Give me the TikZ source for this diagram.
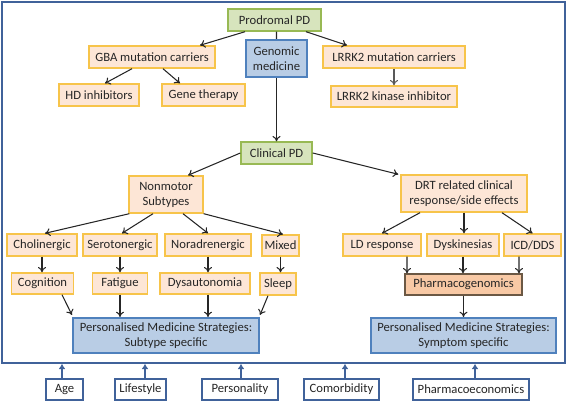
\documentclass[tikz,border=0pt]{standalone}
\usepackage{fontspec}
\setmainfont{Carlito}
\usetikzlibrary{arrows.meta}

\definecolor{greenfill}{HTML}{D7E4BD}
\definecolor{greenline}{HTML}{98B954}
\definecolor{peachfill}{HTML}{FDE6D6}
\definecolor{goldline}{HTML}{F7C44A}
\definecolor{bluefill}{HTML}{B9CDE5}
\definecolor{blueline}{HTML}{4F81BD}
\definecolor{pharmafill}{HTML}{F8C9A5}
\definecolor{pharmaline}{HTML}{6B5844}
\definecolor{frameline}{HTML}{40629A}
\definecolor{txt}{HTML}{262626}

\tikzset{
    box/.style={draw, line width=0.8pt, align=center, inner sep=0pt, text=txt,
        font=\fontsize{7.2}{8.5}\selectfont},
    greenbox/.style={box, draw=greenline, fill=greenfill},
    peachbox/.style={box, draw=goldline, fill=peachfill},
    bluebox/.style={box, draw=blueline, fill=bluefill, line width=1.2pt},
    pharmabox/.style={box, draw=pharmaline, fill=pharmafill},
    factorbox/.style={box, draw=frameline, fill=white},
    arr/.style={draw=txt, line width=0.6pt, -{To[length=3pt,width=4.5pt]}},
    uparr/.style={draw=frameline, line width=1.6pt, -{Latex[length=3pt,width=4pt]}},
}

\begin{document}
\begin{tikzpicture}[x=0.02cm, y=-0.02cm]
    \useasboundingbox (0, 0) rectangle (568, 402);

    % outer frame
    \node[draw=frameline, line width=1pt, minimum width=11.26cm, minimum height=7.22cm] (frame) at (283.5, 182.5) {};

    % genomic branch
    \node[greenbox, minimum width=1.86cm, minimum height=0.44cm] (prodromal) at (274.5, 20) {Prodromal PD};
    \node[bluebox, minimum width=1.22cm, minimum height=0.74cm] (genomic) at (276.5, 58.5) {Genomic\\medicine};
    \node[peachbox, minimum width=2.52cm, minimum height=0.44cm] (gba) at (152, 57) {GBA mutation carriers};
    \node[peachbox, minimum width=1.60cm, minimum height=0.44cm] (hd) at (99, 95) {HD inhibitors};
    \node[peachbox, minimum width=1.66cm, minimum height=0.44cm] (gene) at (203.5, 95) {Gene therapy};
    \node[peachbox, minimum width=2.84cm, minimum height=0.44cm] (lrrk) at (394, 57) {LRRK2 mutation carriers};
    \node[peachbox, minimum width=2.52cm, minimum height=0.42cm] (kinase) at (394, 96.5) {LRRK2 kinase inhibitor};

    % clinical branch
    \node[greenbox, minimum width=1.42cm, minimum height=0.44cm] (clinical) at (276.5, 153) {Clinical PD};
    \node[peachbox, minimum width=1.48cm, minimum height=0.74cm] (nonmotor) at (166, 194.5) {Nonmotor\\Subtypes};
    \node[peachbox, minimum width=2.52cm, minimum height=0.74cm] (drt) at (464, 193.5) {DRT related clinical\\response/side effects};

    \node[peachbox, minimum width=1.40cm, minimum height=0.44cm] (chol) at (42, 245) {Cholinergic};
    \node[peachbox, minimum width=1.48cm, minimum height=0.44cm] (sero) at (120, 245) {Serotonergic};
    \node[peachbox, minimum width=1.72cm, minimum height=0.44cm] (nora) at (208, 245) {Noradrenergic};
    \node[peachbox, minimum width=0.74cm, minimum height=0.42cm] (mixed) at (280.5, 245.5) {Mixed};
    \node[peachbox, minimum width=1.56cm, minimum height=0.44cm] (ldresp) at (382, 245) {LD response};
    \node[peachbox, minimum width=1.44cm, minimum height=0.44cm] (dysk) at (463, 245) {Dyskinesias};
    \node[peachbox, minimum width=1.14cm, minimum height=0.44cm] (icd) at (532.5, 245) {ICD/DDS};

    \node[peachbox, minimum width=1.24cm, minimum height=0.42cm] (cogn) at (42.5, 283.5) {Cognition};
    \node[peachbox, minimum width=1.10cm, minimum height=0.42cm] (fatigue) at (120, 283.5) {Fatigue};
    \node[peachbox, minimum width=1.80cm, minimum height=0.42cm] (dysaut) at (205, 283.5) {Dysautonomia};
    \node[peachbox, minimum width=0.72cm, minimum height=0.44cm] (sleep) at (278, 284) {Sleep};
    \node[pharmabox, minimum width=2.34cm, minimum height=0.42cm] (pharma) at (463.5, 284.5) {Pharmacogenomics};

    \node[bluebox, minimum width=3.72cm, minimum height=0.70cm] (pmssub) at (166, 335.5) {Personalised Medicine Strategies:\\Subtype specific};
    \node[bluebox, minimum width=3.70cm, minimum height=0.70cm] (pmssym) at (463.5, 335.5) {Personalised Medicine Strategies:\\Symptom specific};

    % factors below the frame
    \node[factorbox, minimum width=0.74cm, minimum height=0.42cm] (age) at (64.5, 389.5) {Age};
    \node[factorbox, minimum width=1.02cm, minimum height=0.42cm] (lifestyle) at (140.5, 389.5) {Lifestyle};
    \node[factorbox, minimum width=1.52cm, minimum height=0.42cm] (personality) at (240, 389.5) {Personality};
    \node[factorbox, minimum width=1.50cm, minimum height=0.42cm] (comorb) at (341.5, 389.5) {Comorbidity};
    \node[factorbox, minimum width=2.32cm, minimum height=0.42cm] (pharmaeco) at (471, 389.5) {Pharmacoeconomics};

    % top connectors
    \draw[arr] ([xshift=-0.59cm]prodromal.south) -- ([xshift=0.96cm]gba.north);
    \draw[arr] ([xshift=0.63cm]prodromal.south) -- ([xshift=-0.94cm]lrrk.north);
    \draw[draw=txt, line width=0.6pt] ([xshift=0.04cm]prodromal.south) -- (genomic.north);
    \draw[arr] (genomic.south) -- (genomic.south |- clinical.north);
    \draw[arr] ([xshift=-0.4cm]gba.south) -- ([xshift=0.12cm]hd.north);
    \draw[arr] ([xshift=0.22cm]gba.south) -- ([xshift=-0.47cm]gene.north);
    \draw[arr, draw=black!65] (lrrk.south) -- (kinase.north);

    % clinical connectors
    \draw[arr] (clinical.west) -- ([xshift=0.44cm]nonmotor.north);
    \draw[arr] (clinical.east) -- ([xshift=-0.04cm]drt.north west);
    \draw[arr] ([xshift=0.02cm]nonmotor.south west) -- ([xshift=0.06cm]chol.north);
    \draw[arr] ([xshift=-0.26cm]nonmotor.south) -- ([xshift=0.04cm]sero.north);
    \draw[arr] ([xshift=0.34cm]nonmotor.south) -- (nora.north);
    \draw[arr] (nonmotor.south east) -- ([xshift=0.05cm]mixed.north);
    \draw[arr] ([xshift=-0.88cm]drt.south) -- (ldresp.north);
    \draw[arr] (drt.south) -- (drt.south |- dysk.north);
    \draw[arr] ([xshift=0.76cm]drt.south) -- (icd.north);

    \draw[arr] (chol.south) -- (chol.south |- cogn.north);
    \draw[arr] (sero.south) -- (sero.south |- fatigue.north);
    \draw[arr] (nora.south) -- (nora.south |- dysaut.north);
    \draw[arr] (mixed.south) -- (mixed.south |- sleep.north);
    \draw[arr] ([xshift=0.5cm]ldresp.south) -- ([xshift=-1.13cm]pharma.north);
    \draw[arr] (dysk.south) -- (dysk.south |- pharma.north);
    \draw[arr] ([xshift=-0.27cm]icd.south) -- ([xshift=1.11cm]pharma.north);

    \draw[arr] ([xshift=0.39cm]cogn.south) -- ([yshift=0.04cm]pmssub.north west);
    \draw[arr] (fatigue.south) -- (fatigue.south |- pmssub.north);
    \draw[arr] ([xshift=0.06cm]dysaut.south) -- ([xshift=0.06cm]dysaut.south |- pmssub.north);
    \draw[arr] ([xshift=-0.2cm]sleep.south) -- ([yshift=0.04cm]pmssub.north east);
    \draw[arr] (pharma.south) -- (pharma.south |- pmssym.north);

    % factors into the frame
    \draw[uparr] ([xshift=-0.05cm]age.north) -- ([xshift=-0.05cm]age.north |- frame.south);
    \draw[uparr] ([xshift=0.09cm]lifestyle.north) -- ([xshift=0.09cm]lifestyle.north |- frame.south);
    \draw[uparr] ([xshift=0.02cm]personality.north) -- ([xshift=0.02cm]personality.north |- frame.south);
    \draw[uparr] ([xshift=0.07cm]comorb.north) -- ([xshift=0.07cm]comorb.north |- frame.south);
    \draw[uparr] ([xshift=0.08cm]pharmaeco.north) -- ([xshift=0.08cm]pharmaeco.north |- frame.south);
\end{tikzpicture}
\end{document}
